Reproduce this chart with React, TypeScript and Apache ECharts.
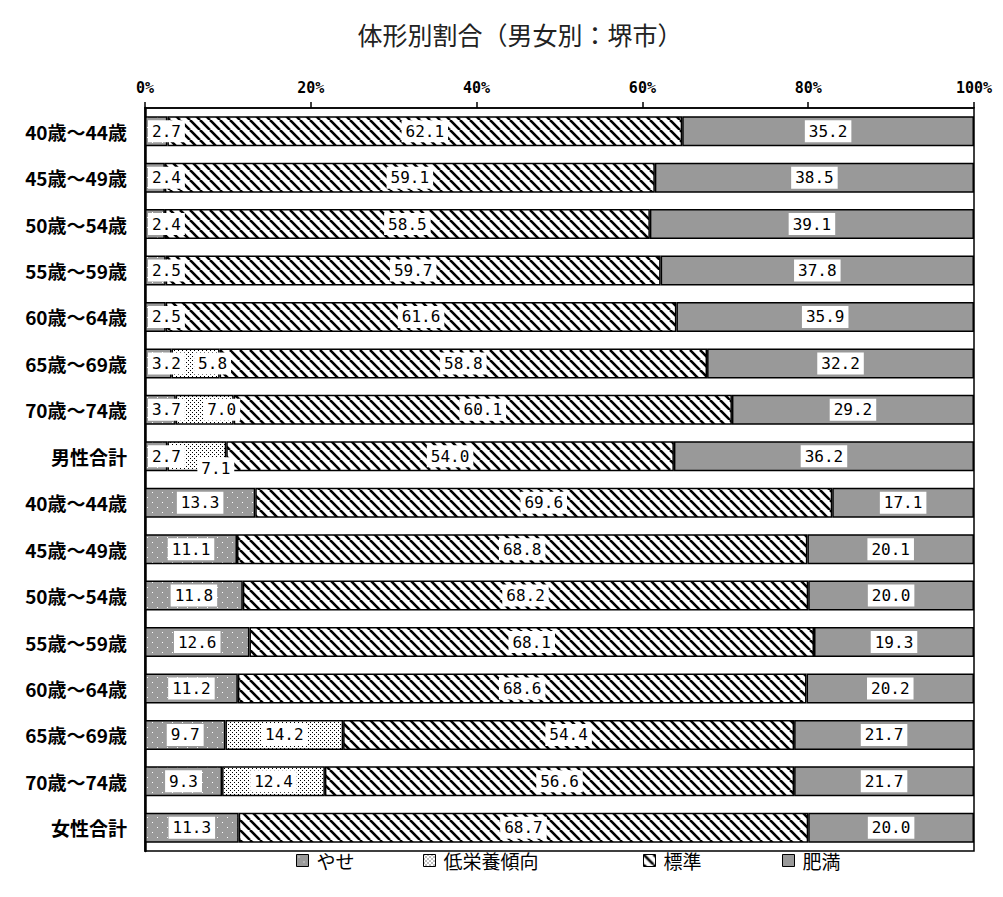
import React, { useEffect, useRef } from 'react';
import * as echarts from 'echarts';

const categories = [
  '40歳～44歳', '45歳～49歳', '50歳～54歳', '55歳～59歳', '60歳～64歳', '65歳～69歳', '70歳～74歳', '男性合計',
  '40歳～44歳', '45歳～49歳', '50歳～54歳', '55歳～59歳', '60歳～64歳', '65歳～69歳', '70歳～74歳', '女性合計',
];
const seriesNames = ['やせ', '低栄養傾向', '標準', '肥満'];
const yaseValues = [2.7, 2.4, 2.4, 2.5, 2.5, 3.2, 3.7, 2.7, 13.3, 11.1, 11.8, 12.6, 11.2, 9.7, 9.3, 11.3];
const teiEiyoValues = [null, null, null, null, null, 5.8, 7.0, 7.1, null, null, null, null, null, 14.2, 12.4, null];
const hyojunValues = [62.1, 59.1, 58.5, 59.7, 61.6, 58.8, 60.1, 54.0, 69.6, 68.8, 68.2, 68.1, 68.6, 54.4, 56.6, 68.7];
const himanValues = [35.2, 38.5, 39.1, 37.8, 35.9, 32.2, 29.2, 36.2, 17.1, 20.1, 20.0, 19.3, 20.2, 21.7, 21.7, 20.0];
const maleCount = 8;

function makeCanvas(size: number, draw: (ctx: CanvasRenderingContext2D) => void) {
  const c = document.createElement('canvas');
  c.width = size;
  c.height = size;
  const ctx = c.getContext('2d')!;
  draw(ctx);
  return c;
}

function stripePattern() {
  return makeCanvas(10, (ctx) => {
    ctx.fillStyle = '#fff';
    ctx.fillRect(0, 0, 10, 10);
    ctx.strokeStyle = '#000';
    ctx.lineWidth = 2.6;
    for (const o of [-10, 0, 10]) {
      ctx.beginPath();
      ctx.moveTo(o, 0);
      ctx.lineTo(o + 10, 10);
      ctx.stroke();
    }
  });
}

function dotPattern() {
  return makeCanvas(4, (ctx) => {
    ctx.fillStyle = '#fff';
    ctx.fillRect(0, 0, 4, 4);
    ctx.fillStyle = '#000';
    ctx.fillRect(0, 0, 1, 1);
    ctx.fillRect(2, 2, 1, 1);
  });
}

function grayDotPattern() {
  return makeCanvas(10, (ctx) => {
    ctx.fillStyle = '#9a9a9a';
    ctx.fillRect(0, 0, 10, 10);
    ctx.fillStyle = '#fff';
    ctx.fillRect(2, 2, 1, 1);
    ctx.fillRect(7, 7, 1, 1);
  });
}

const numFont = '"DejaVu Sans Mono"';
const cjkFont = '"Noto Sans CJK JP"';

const labelBase = {
  show: true,
  color: '#000',
  fontFamily: numFont,
  fontSize: 16,
  lineHeight: 18,
  backgroundColor: '#fff',
  padding: [2, 4],
  formatter: (p: any) => (p.value == null ? '' : Number(p.value).toFixed(1)),
};

export default function App() {
  const ref = useRef<HTMLDivElement>(null);

  useEffect(() => {
    if (!ref.current) return;
    const chart = echarts.init(ref.current, undefined, { renderer: 'svg' });

    const stripes = { image: stripePattern(), repeat: 'repeat' };
    const dots = { image: dotPattern(), repeat: 'repeat' };
    const grayDots = { image: grayDotPattern(), repeat: 'repeat' };

    const yaseData = yaseValues.map((v, i) =>
      i < maleCount
        ? { value: v, label: { position: 'insideLeft', distance: 3 } }
        : { value: v }
    );
    const teiData = teiEiyoValues.map((v, i) => {
      if (v == null) return { value: null };
      if (i === maleCount - 1) return { value: v, label: { offset: [19, 12] } };
      if (i < maleCount) return { value: v, label: { offset: [17, 0] } };
      return { value: v };
    });

    const itemBorder = { borderColor: '#000', borderWidth: 1.5 };

    const legendLefts = [291, 418, 638, 777];

    const option: any = {
      animation: false,
      title: {
        text: '体形別割合（男女別：堺市）',
        left: 515,
        top: 16,
        textAlign: 'center',
        textStyle: { fontFamily: cjkFont, fontSize: 25, fontWeight: 'normal', color: '#222' },
      },
      legend: seriesNames.map((n, i) => ({
        data: [n],
        left: legendLefts[i],
        top: 846,
        icon: 'rect',
        itemWidth: 12,
        itemHeight: 12,
        itemGap: 0,
        selectedMode: false,
        itemStyle: { borderColor: '#000', borderWidth: 1 },
        textStyle: { fontFamily: cjkFont, fontSize: 19, color: '#000', padding: [0, 0, 0, 3] },
      })),
      grid: {
        left: 145,
        right: 29,
        top: 108,
        bottom: 46,
        show: true,
        borderColor: '#000',
        borderWidth: 1.5,
        containLabel: false,
      },
      xAxis: {
        type: 'value',
        position: 'top',
        min: 0,
        max: 100,
        interval: 20,
        axisLine: { show: true, lineStyle: { color: '#000', width: 1.5 } },
        axisTick: { show: true, inside: false, length: 6, lineStyle: { color: '#000', width: 1.5 } },
        splitLine: { show: false },
        axisLabel: {
          formatter: '{value}%',
          color: '#000',
          fontFamily: numFont,
          fontWeight: 'bold',
          fontSize: 15,
          margin: 13,
        },
      },
      yAxis: {
        type: 'category',
        data: categories,
        inverse: true,
        axisLine: { show: true, lineStyle: { color: '#000', width: 2.5 } },
        axisTick: { show: false },
        axisLabel: {
          color: '#000',
          fontFamily: cjkFont,
          fontWeight: 'bold',
          fontSize: 19,
          margin: 18,
        },
      },
      series: [
        {
          name: seriesNames[0],
          type: 'bar',
          stack: 'total',
          barWidth: 30,
          data: yaseData,
          itemStyle: { color: grayDots, ...itemBorder },
          label: { ...labelBase, position: 'inside' },
        },
        {
          name: seriesNames[1],
          type: 'bar',
          stack: 'total',
          barWidth: 30,
          data: teiData,
          itemStyle: { color: dots, ...itemBorder },
          label: { ...labelBase, position: 'inside' },
        },
        {
          name: seriesNames[2],
          type: 'bar',
          stack: 'total',
          barWidth: 30,
          data: hyojunValues,
          itemStyle: { color: stripes, ...itemBorder },
          label: { ...labelBase, position: 'inside' },
        },
        {
          name: seriesNames[3],
          type: 'bar',
          stack: 'total',
          barWidth: 30,
          data: himanValues,
          itemStyle: { color: '#999999', ...itemBorder },
          label: { ...labelBase, position: 'inside' },
        },
      ],
    };

    chart.setOption(option);
    return () => chart.dispose();
  }, []);

  return (
    <div
      ref={ref}
      style={{ position: 'fixed', left: 0, top: 0, width: 1003, height: 897, background: '#fff' }}
    />
  );
}
